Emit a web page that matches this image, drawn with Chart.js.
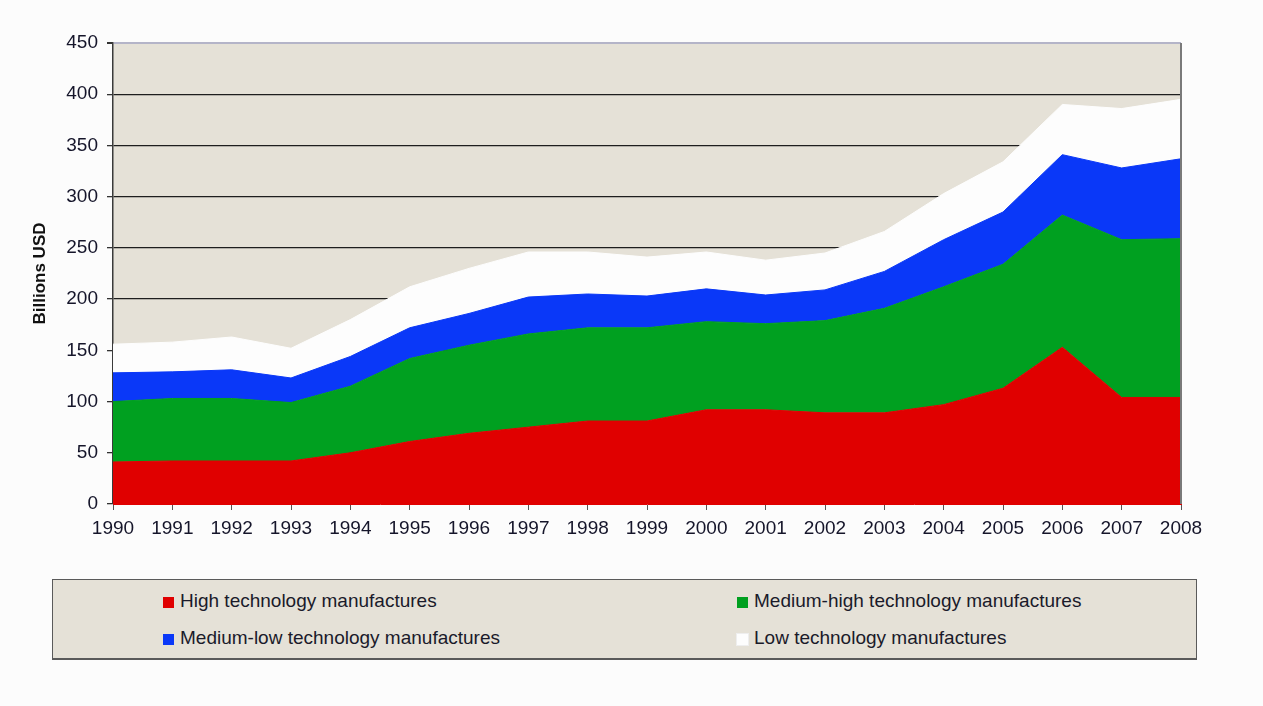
<!DOCTYPE html>
<html>
<head>
<meta charset="utf-8">
<script src="https://cdn.jsdelivr.net/npm/chart.js@4.4.1/dist/chart.umd.min.js"></script>
<style>
  body { margin: 0; background: #fcfcfc; font-family: 'Liberation Sans', Arial, sans-serif; }
  #wrap { position: relative; width: 1263px; height: 706px; }
  #chart { position: absolute; left: 0; top: 0; }
  #legend {
    position: absolute; left: 52px; top: 579px; width: 1143px; height: 78px;
    background: #e5e1d7; border: 1px solid #5a5a5a; border-bottom-width: 2px;
  }
  .item { position: absolute; font-size: 19px; color: #1a1a2a; line-height: 20px; white-space: nowrap; }
  .item i { display: inline-block; width: 11px; height: 11px; margin-right: 6px; vertical-align: -1px; }
</style>
</head>
<body>
<div id="wrap">
  <canvas id="chart" width="1263" height="540"></canvas>
  <div id="legend"></div>
</div>
<script>
// ── Data ──
const years = ['1990', '1991', '1992', '1993', '1994', '1995', '1996', '1997', '1998', '1999',
               '2000', '2001', '2002', '2003', '2004', '2005', '2006', '2007', '2008'];
const highTech    = [41, 42, 42, 42, 50, 61, 69, 75, 81, 81, 92, 92, 89, 89, 97, 113, 153, 104, 104];
const medHighTech = [59, 61, 61, 57, 65, 81, 86, 91, 91, 91, 86, 84, 90, 102, 115, 121, 129, 154, 155];
const medLowTech  = [28, 26, 28, 24, 29, 30, 31, 36, 33, 31, 32, 28, 30, 36, 46, 51, 59, 70, 78];
const lowTech     = [28, 29, 32, 29, 36, 40, 44, 44, 41, 38, 36, 34, 36, 39, 45, 49, 49, 58, 58];
const seriesNames = ['High technology manufactures', 'Medium-high technology manufactures',
                     'Medium-low technology manufactures', 'Low technology manufactures'];
const seriesColors = ['#e00000', '#00a020', '#0a38f8', '#fdfdfd'];
const yTicks = [0, 50, 100, 150, 200, 250, 300, 350, 400, 450];

const font = { family: "'Liberation Sans', Arial, sans-serif", size: 19 };

// plot background + right border
const plotFrame = {
  id: 'plotFrame',
  beforeDraw(chart) {
    const { ctx, chartArea: a } = chart;
    ctx.save();
    ctx.fillStyle = '#e5e1d7';
    ctx.fillRect(a.left, a.top, a.right - a.left, a.bottom - a.top);
    ctx.restore();
  },
  afterDatasetsDraw(chart) {
    const { ctx, chartArea: a } = chart;
    ctx.save();
    ctx.strokeStyle = '#7a7a7a';
    ctx.lineWidth = 2;
    ctx.beginPath();
    ctx.moveTo(a.right, a.top);
    ctx.lineTo(a.right, a.bottom);
    ctx.stroke();
    ctx.restore();
  }
};

const datasets = [highTech, medHighTech, medLowTech, lowTech].map((vals, i) => ({
  label: seriesNames[i],
  data: vals,
  backgroundColor: seriesColors[i],
  borderColor: seriesColors[i],
  borderWidth: 1,
  pointRadius: 0,
  tension: 0,
  fill: i === 0 ? 'origin' : '-1',
}));

new Chart(document.getElementById('chart'), {
  type: 'line',
  data: { labels: years, datasets },
  plugins: [plotFrame],
  options: {
    responsive: false,
    animation: false,
    layout: { padding: { left: 0, right: 82, top: 43, bottom: 0 } },
    plugins: { legend: { display: false }, tooltip: { enabled: false } },
    scales: {
      x: {
        offset: false,
        grid: { display: true, drawOnChartArea: false, tickLength: 6, color: '#555', tickColor: '#555' },
        border: { color: '#e00000', width: 1 },
        ticks: { color: '#15152a', font, padding: 7, maxRotation: 0, autoSkip: false },
        afterFit: s => { s.height = 36; },
      },
      y: {
        stacked: true,
        min: 0, max: 450,
        afterBuildTicks: s => { s.ticks = yTicks.map(v => ({ value: v })); },
        grid: {
          tickLength: 6,
          tickColor: '#333',
          color: c => c.tick.value === 0 ? 'rgba(0,0,0,0)' : (c.tick.value === 450 ? '#b4b4c8' : '#1e1e1e'),
          lineWidth: c => c.tick.value === 450 ? 2 : 1.3,
        },
        border: { color: '#3a3a3a', width: 1.5 },
        ticks: { color: '#15152a', font, padding: 9 },
        title: {
          display: true, text: 'Billions USD', color: '#111',
          font: { family: "'Liberation Sans', Arial, sans-serif", size: 17, weight: 'bold' },
          padding: { top: 30, bottom: 0 },
        },
        afterFit: s => { s.width = 113; },
      },
    },
  },
});

// ── HTML legend (2 x 2 grid) ──
const legendPos = [[110, 11], [684, 11], [110, 48], [684, 48]];
const legend = document.getElementById('legend');
seriesNames.forEach((name, i) => {
  const el = document.createElement('div');
  el.className = 'item';
  el.style.left = legendPos[i][0] + 'px';
  el.style.top = legendPos[i][1] + 'px';
  el.innerHTML = `<i style="background:${seriesColors[i]};${i === 3 ? 'outline:1px solid #eee;' : ''}"></i>${name}`;
  legend.appendChild(el);
});
</script>
</body>
</html>
